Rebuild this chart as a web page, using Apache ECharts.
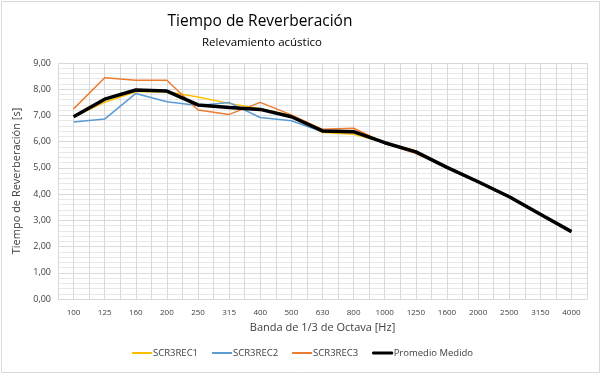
<!DOCTYPE html>
<html>
<head>
<meta charset="utf-8">
<script src="https://cdn.jsdelivr.net/npm/echarts@6/dist/echarts.min.js"></script>
<style>
  html, body { margin: 0; padding: 0; background: #fff; }
  #main { width: 604px; height: 376px; }
</style>
</head>
<body>
<div id="main"></div>
<script>
// bandas de tercio de octava
var bandas = ['100','125','160','200','250','315','400','500','630','800','1000','1250','1600','2000','2500','3150','4000'];
var rec1 = [6.95, 7.50, 7.90, 7.90, 7.70, 7.46, 7.26, 7.00, 6.35, 6.28, 5.98, 5.65, 5.05, 4.45, 3.88, 3.23, 2.57];
var rec2 = [6.75, 6.86, 7.84, 7.52, 7.38, 7.49, 6.92, 6.80, 6.38, 6.35, 5.95, 5.60, 5.02, 4.47, 3.90, 3.23, 2.57];
var rec3 = [7.25, 8.44, 8.34, 8.34, 7.21, 7.04, 7.50, 7.02, 6.47, 6.51, 5.95, 5.55, 5.05, 4.50, 3.92, 3.25, 2.57];
var promedio = [6.95, 7.62, 7.97, 7.93, 7.40, 7.30, 7.23, 6.95, 6.41, 6.38, 5.96, 5.61, 5.02, 4.47, 3.90, 3.23, 2.57];

// eje auxiliar solo para las lineas verticales (cada media banda)
var mediasBandas = [];
for (var i = 0; i < bandas.length * 2; i++) mediasBandas.push(String(i));

var fuente = 'Open Sans';

var myChart = echarts.init(document.getElementById('main'));

function serie(nombre, datos, color, ancho, z) {
  return {
    name: nombre,
    type: 'line',
    data: datos,
    symbol: 'none',
    z: z,
    lineStyle: { color: color, width: ancho },
    itemStyle: { color: color }
  };
}

myChart.setOption({
  animation: false,
  textStyle: { fontFamily: fuente },
  graphic: [
    { type: 'rect', shape: { x: 1.5, y: 1.5, width: 598, height: 371 }, style: { fill: 'none', stroke: '#d9d9d9', lineWidth: 1 } },
    { type: 'text', x: 260, y: 14, style: { text: 'Tiempo de Reverberación', fontFamily: fuente, fontSize: 15.5, fill: '#000', textAlign: 'center' } },
    { type: 'text', x: 262, y: 37, style: { text: 'Relevamiento acústico', fontFamily: fuente, fontSize: 11.5, fill: '#000', textAlign: 'center' } }
  ],
  legend: {
    data: [
      { name: 'SCR3REC1', icon: 'rect' },
      { name: 'SCR3REC2', icon: 'rect' },
      { name: 'SCR3REC3', icon: 'rect' },
      { name: 'Promedio Medido', icon: 'rect', itemStyle: { borderColor: '#000', borderWidth: 1 } }
    ],
    bottom: 13,
    left: 127,
    itemWidth: 20,
    itemHeight: 2,
    itemGap: 14,
    textStyle: { fontSize: 9.5, color: '#404040', fontFamily: fuente, padding: [0, 0, 0, -4] }
  },
  grid: { left: 58, right: 17, top: 63, bottom: 77 },
  xAxis: [
    {
      type: 'category',
      data: bandas,
      boundaryGap: true,
      name: 'Banda de 1/3 de Octava [Hz]',
      nameLocation: 'middle',
      nameGap: 22,
      nameTextStyle: { fontSize: 11, color: '#404040' },
      axisLine: { lineStyle: { color: '#d9d9d9' } },
      axisTick: { show: false },
      axisLabel: { fontSize: 8, color: '#404040', interval: 0, margin: 10 },
      splitLine: { show: false }
    },
    {
      type: 'category',
      data: mediasBandas,
      boundaryGap: true,
      position: 'bottom',
      axisLine: { show: false },
      axisTick: { show: false },
      axisLabel: { show: false },
      splitLine: { show: true, interval: 0, lineStyle: { color: '#d9d9d9', width: 1 } }
    }
  ],
  yAxis: {
    type: 'value',
    min: 0,
    max: 9,
    interval: 1,
    name: 'Tiempo de Reverberación [s]',
    nameLocation: 'middle',
    nameGap: 35,
    nameTextStyle: { fontSize: 11, color: '#404040' },
    axisLine: { show: false },
    axisTick: { show: false },
    axisLabel: {
      fontSize: 9,
      color: '#404040',
      margin: 7,
      formatter: function (v) { return v.toFixed(2).replace('.', ','); }
    },
    splitLine: { lineStyle: { color: '#d9d9d9', width: 1 } },
    minorTick: { show: false, splitNumber: 5 },
    minorSplitLine: { show: true, lineStyle: { color: '#e8e8e8', width: 1 } }
  },
  series: [
    serie('SCR3REC1', rec1, '#ffc000', 1.5, 2),
    serie('SCR3REC2', rec2, '#5b9bd5', 1.5, 3),
    serie('SCR3REC3', rec3, '#ed7d31', 1.5, 4),
    serie('Promedio Medido', promedio, '#000000', 3.5, 5)
  ]
});
</script>
</body>
</html>
